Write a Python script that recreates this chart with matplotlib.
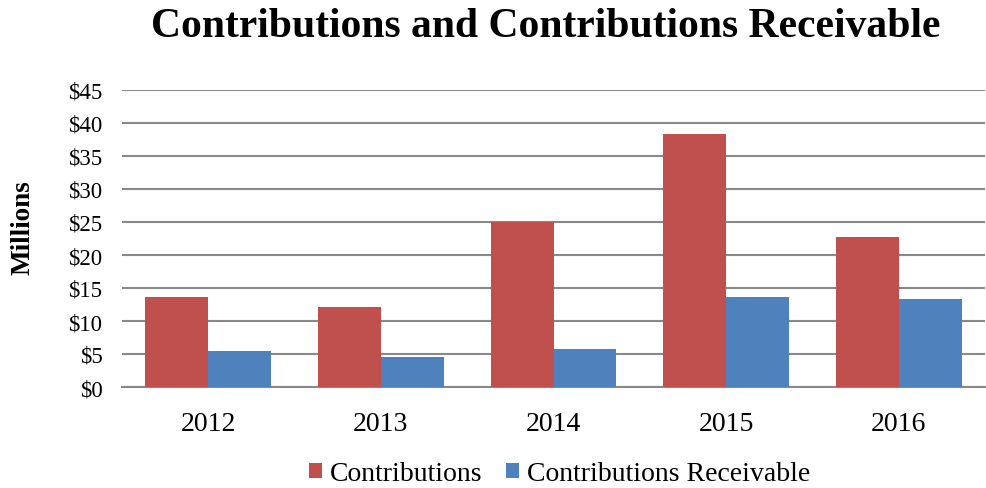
import matplotlib
matplotlib.use("Agg")
import matplotlib.pyplot as plt
import numpy as np

years = ["2012", "2013", "2014", "2015", "2016"]
contributions = [13.6, 12.1, 25.0, 38.3, 22.8]
receivable = [5.5, 4.6, 5.8, 13.7, 13.4]
yticks = [0, 5, 10, 15, 20, 25, 30, 35, 40, 45]
ytick_labels = ["$0", "$5", "$10", "$15", "$20", "$25", "$30", "$35", "$40", "$45"]

plt.rcParams['font.family'] = ['Liberation Serif', 'DejaVu Serif']

fig = plt.figure(figsize=(9.86, 4.89), dpi=100)
ax = fig.add_axes([122/986, 1-388/489, 863/986, 297/489])

x = np.arange(len(years))
w = 0.365
ax.bar(x - w/2, contributions, width=w, color="#C0504D", label="Contributions", zorder=3)
ax.bar(x + w/2, receivable, width=w, color="#4F81BD", label="Contributions Receivable", zorder=3)

ax.set_xlim(-0.5, len(years) - 0.5)
ax.set_ylim(0, 45)
ax.set_yticks(yticks)
ax.set_yticklabels(ytick_labels, fontsize=16.5)
ax.set_xticks(x)
ax.set_xticklabels(years, fontsize=20)
ax.tick_params(axis='both', length=0)
ax.tick_params(axis='y', pad=14)
ax.tick_params(axis='x', pad=17)
ax.yaxis.grid(True, color="#898989", linewidth=1.5, zorder=0)
for s in ["top", "right", "left"]:
    ax.spines[s].set_visible(False)
ax.spines["bottom"].set_color("#898989")
ax.spines["bottom"].set_linewidth(1.5)

fig.text(23/986, 1-228/489, "Millions", rotation=90, ha="center", va="center",
         fontsize=19.5, fontweight="bold")
fig.text(546/986, 1-27/489, "Contributions and Contributions Receivable",
         ha="center", va="center", fontsize=30, fontweight="bold")

fig.legend(loc="center", bbox_to_anchor=(560/986, 1-475/489), ncol=2, frameon=False,
           fontsize=20, handlelength=0.45, handleheight=0.45, handletextpad=0.3,
           columnspacing=0.85)

fig.savefig("out.png", dpi=100)
